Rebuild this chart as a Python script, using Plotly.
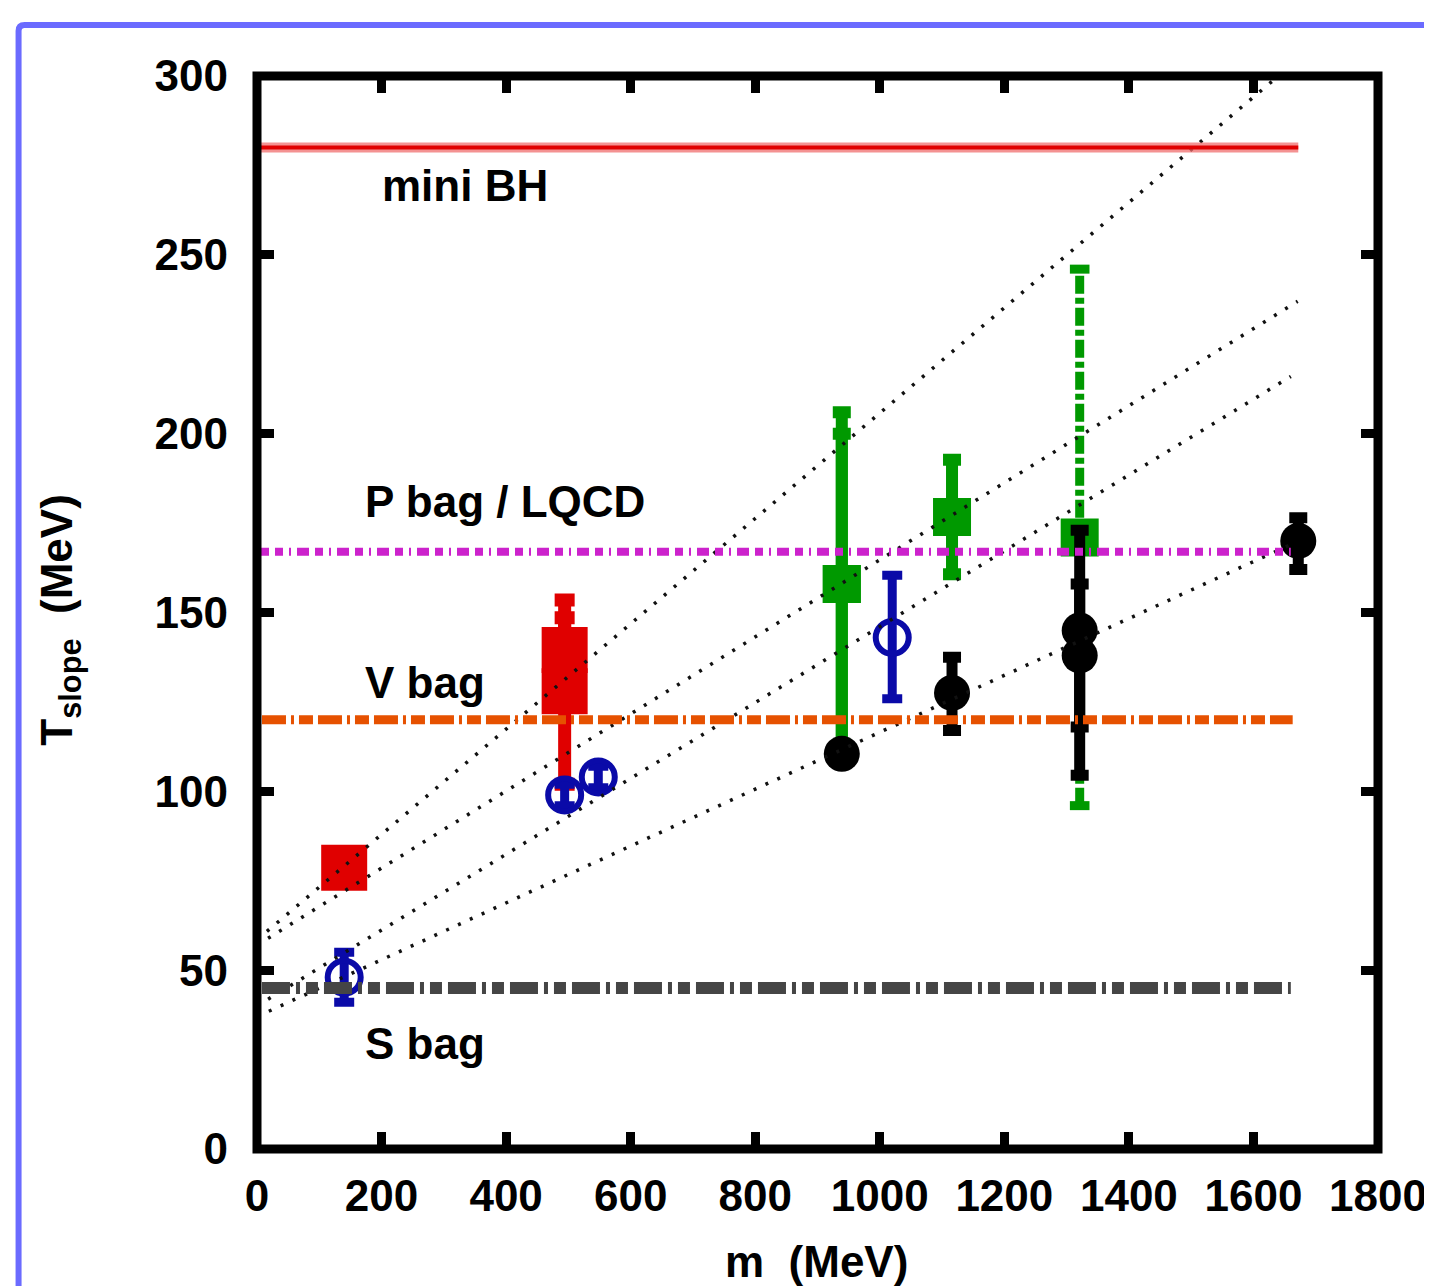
import plotly.graph_objects as go

# ---------------- data ----------------
# red squares
red_m = [140, 494, 494]
red_T = [78.6, 139.5, 128.0]
red_ep = [0, 9, 25.5]
red_em = [0, 9, 26]

# green squares (solid error bars)
green_m = [939, 939, 1116]
green_T = [158, 158, 176.7]
green_ep = [48, 42, 16]
green_em = [45, 45, 16]

# green square with dashed error bar
greend_m = [1321]
greend_T = [171]
greend_ep = [75]
greend_em = [75]

# blue open circles
blue_m = [140, 494, 548, 1020]
blue_T = [48, 99, 104, 143]
blue_ep = [7, 3, 3, 17.4]
blue_em = [7, 3, 3, 17.1]

# black filled circles
black_m = [939, 1116, 1321, 1321, 1672]
black_T = [110.5, 127.5, 145, 138, 170]
black_ep = [0, 10, 28, 20, 6.5]
black_em = [0, 10.5, 27, 33.5, 8]

# reference temperature lines
ref_names = ["mini BH", "P bag / LQCD", "V bag", "S bag"]
ref_T = [280, 167, 120, 45]
ref_m_start = [0, 0, 8, 8]
ref_m_end = [1672, 1660, 1663, 1660]

# dotted straight lines (end points)
fit_m0 = [0, 0, 0, 0]
fit_T0 = [58.5, 57, 40, 37]
fit_m1 = [1640, 1671, 1660, 1660]
fit_T1 = [300, 237, 216, 169]

x_ticks = [0, 200, 400, 600, 800, 1000, 1200, 1400, 1600, 1800]
y_ticks = [0, 50, 100, 150, 200, 250, 300]

# ---------------- styles ----------------
FONT = "Liberation Sans, Arial, Helvetica, sans-serif"
FS = 44
RED = "#e00000"
GREEN = "#009900"
BLUE = "#0a0aa8"
BLACK = "#000000"
ORANGE = "#e65100"
MAGENTA = "#cc22cc"
GRAY = "#454545"

fig = go.Figure()

# red squares
fig.add_trace(go.Scatter(
    x=red_m, y=red_T, mode="markers",
    marker=dict(symbol="square", size=46, color=RED, line=dict(width=0)),
    error_y=dict(type="data", array=red_ep, arrayminus=red_em, color=RED,
                 thickness=13, width=10, symmetric=False),
    showlegend=False, cliponaxis=False))

# green squares, solid error bars
fig.add_trace(go.Scatter(
    x=green_m, y=green_T, mode="markers",
    marker=dict(symbol="square", size=38, color=GREEN, line=dict(width=0)),
    error_y=dict(type="data", array=green_ep, arrayminus=green_em, color=GREEN,
                 thickness=12, width=9, symmetric=False),
    showlegend=False, cliponaxis=False))

# green square with dashed error bar
for m, T, ep, em in zip(greend_m, greend_T, greend_ep, greend_em):
    fig.add_trace(go.Scatter(
        x=[m, m], y=[T - em, T + em], mode="lines+markers",
        line=dict(color=GREEN, width=9, dash="18px,4px,6px,4px"),
        marker=dict(symbol="line-ew", size=14, color=GREEN,
                    line=dict(color=GREEN, width=9)),
        showlegend=False, cliponaxis=False))
fig.add_trace(go.Scatter(
    x=greend_m, y=greend_T, mode="markers",
    marker=dict(symbol="square", size=38, color=GREEN, line=dict(width=0)),
    showlegend=False, cliponaxis=False))

# blue open circles
fig.add_trace(go.Scatter(
    x=blue_m, y=blue_T, mode="markers",
    marker=dict(symbol="circle-open", size=33, color=BLUE,
                line=dict(color=BLUE, width=6)),
    error_y=dict(type="data", array=blue_ep, arrayminus=blue_em, color=BLUE,
                 thickness=9, width=10, symmetric=False),
    showlegend=False, cliponaxis=False))

# black filled circles
fig.add_trace(go.Scatter(
    x=black_m, y=black_T, mode="markers",
    marker=dict(symbol="circle", size=36, color=BLACK, line=dict(width=0)),
    error_y=dict(type="data", array=black_ep, arrayminus=black_em, color=BLACK,
                 thickness=11, width=9, symmetric=False),
    showlegend=False, cliponaxis=False))

# dotted lines
for m0, T0, m1, T1 in zip(fit_m0, fit_T0, fit_m1, fit_T1):
    fig.add_trace(go.Scatter(
        x=[m0, m1], y=[T0, T1], mode="lines",
        line=dict(color="#111111", width=3.5, dash="3px,10px"),
        showlegend=False, hoverinfo="skip"))

# reference horizontal lines
ref_styles = [
    dict(color=RED, width=4, dash="solid"),
    dict(color=MAGENTA, width=8, dash="12px,6px,8px,6px,2px,6px"),
    dict(color=ORANGE, width=9, dash="24px,5px,3px,5px,14px,5px"),
    dict(color=GRAY, width=12, dash="28px,6px,4px,6px,12px,6px"),
]
for i, (T, m0, m1) in enumerate(zip(ref_T, ref_m_start, ref_m_end)):
    if i == 0:
        fig.add_trace(go.Scatter(
            x=[m0, m1], y=[T, T], mode="lines",
            line=dict(color="rgba(240,110,110,0.75)", width=10),
            showlegend=False, hoverinfo="skip"))
    fig.add_trace(go.Scatter(
        x=[m0, m1], y=[T, T], mode="lines", line=ref_styles[i],
        name=ref_names[i], showlegend=False, hoverinfo="skip"))

# labels of reference lines
label_pos = [(198, 269.5), (170, 181), (170, 130.3), (170, 29.6)]
annotations = []
for name, (lx, ly) in zip(ref_names, label_pos):
    annotations.append(dict(
        x=lx, y=ly, xref="x", yref="y", text=name, showarrow=False,
        xanchor="left", yanchor="middle",
        font=dict(family=FONT, size=FS, color="black", weight="bold")))

# axis titles
annotations.append(dict(
    x=-0.176, y=0.493, xref="paper", yref="paper",
    text="T<sub>slope</sub>\u00a0\u00a0(MeV)", textangle=-90, showarrow=False,
    xanchor="center", yanchor="middle",
    font=dict(family=FONT, size=FS, color="black", weight="bold")))
annotations.append(dict(
    x=0.499, y=-0.105, xref="paper", yref="paper",
    text="m\u00a0\u00a0(MeV)", showarrow=False,
    xanchor="center", yanchor="middle",
    font=dict(family=FONT, size=FS, color="black", weight="bold")))

shapes = [
    # plot frame
    dict(type="rect", xref="paper", yref="paper", x0=0, y0=0, x1=1, y1=1,
         line=dict(color="black", width=9), layer="above"),
    # outer blue border
    dict(type="path", xref="paper", yref="paper",
         path="M -0.2127,-0.15 L -0.2127,1.042 Q -0.2127,1.0475 -0.2073,1.0475 L 1.07,1.0475",
         line=dict(color="#6b6bff", width=6), layer="above"),
]

axis_common = dict(
    showgrid=False, zeroline=False, showline=False,
    ticks="inside", ticklen=17, tickwidth=9, tickcolor="black",
    mirror="ticks",
    tickfont=dict(family=FONT, size=FS, color="black", weight="bold"),
)

# page body has an 8px margin: compensate so the plot area lands at
# x 257..1378, y 76..1149 in the browser window
fig.update_layout(
    width=1432, height=1286,
    margin=dict(l=249, r=62, t=68, b=145, pad=0),
    paper_bgcolor="white", plot_bgcolor="white",
    xaxis=dict(range=[0, 1800], tickvals=x_ticks,
               ticktext=[str(v) for v in x_ticks], ticklabelstandoff=17,
               **axis_common),
    yaxis=dict(range=[0, 300], tickvals=y_ticks,
               ticktext=[str(v) for v in y_ticks], ticklabelstandoff=28,
               **axis_common),
    annotations=annotations,
    shapes=shapes,
)

fig.write_html("out.html")
